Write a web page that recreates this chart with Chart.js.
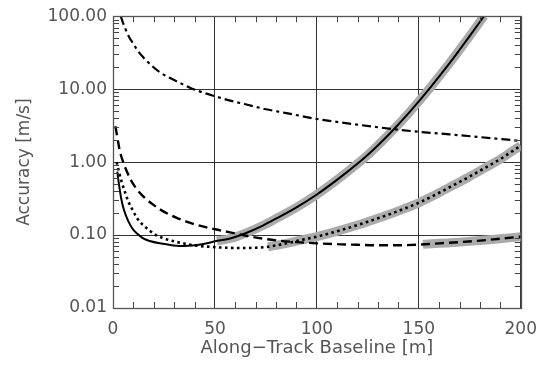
<!DOCTYPE html>
<html>
<head>
<meta charset="utf-8">
<script src="https://cdn.jsdelivr.net/npm/chart.js@4.4.1/dist/chart.umd.min.js"></script>
<style>
html,body{margin:0;padding:0;background:#fff;}
#c{display:block;}
</style>
</head>
<body>
<canvas id="c" width="548" height="367"></canvas>
<script>
// ---- data ----
const xTickValues = [0, 50, 100, 150, 200];
const yTickValues = [0.01, 0.1, 1, 10, 100];
const xTitle = "Along\u2212Track Baseline [m]";
const yTitle = "Accuracy [m/s]";

const solidX = [2.1, 3, 4, 5, 6.5, 8.3, 10, 12, 14.8, 18, 23, 27, 31, 35, 39, 45, 50, 57, 65, 73.5, 80, 90, 100, 110, 120, 125, 130, 138, 145, 150, 155, 160, 165, 170, 175, 180, 182];
const solidY = [0.74, 0.48, 0.32, 0.24, 0.18, 0.14, 0.118, 0.104, 0.09, 0.083, 0.077, 0.074, 0.0715, 0.071, 0.072, 0.076, 0.082, 0.089, 0.106, 0.135, 0.168, 0.24, 0.36, 0.575, 0.955, 1.26, 1.7, 2.87, 4.68, 6.8, 10, 15, 22.6, 34.7, 53.7, 84, 101];

const dotX = [1.8, 3, 4.2, 6, 7.5, 10, 11.6, 15, 18, 21, 24.6, 30, 34.4, 40, 47.4, 55, 62, 70, 76, 85, 92, 100, 110, 120, 126, 135, 142, 150, 160, 168, 175, 182, 190, 195, 200];
const dotY = [1.0, 0.72, 0.54, 0.38, 0.29, 0.21, 0.173, 0.135, 0.115, 0.1, 0.091, 0.082, 0.077, 0.072, 0.069, 0.067, 0.0665, 0.067, 0.069, 0.077, 0.085, 0.095, 0.113, 0.137, 0.156, 0.19, 0.225, 0.277, 0.38, 0.5, 0.635, 0.82, 1.1, 1.36, 1.68];

const dashX = [1.2, 2.5, 3.4, 5, 6.5, 8.3, 11, 14.8, 19, 23, 27, 31, 36, 41, 50, 58, 66, 74, 82, 90, 100, 110, 120, 129, 140, 150, 160, 170, 180, 190, 200];
const dashY = [3.1, 1.9, 1.4, 1.0, 0.78, 0.6, 0.45, 0.34, 0.27, 0.225, 0.195, 0.173, 0.153, 0.138, 0.12, 0.108, 0.097, 0.089, 0.0835, 0.08, 0.077, 0.075, 0.0735, 0.0725, 0.0725, 0.074, 0.077, 0.08, 0.084, 0.089, 0.095];

const dashDotX = [3.8, 5, 6, 8, 10, 12, 15, 19, 23, 28, 33, 38, 44, 50, 58, 65, 75, 85, 91, 100, 115, 130, 150, 165, 180, 200];
const dashDotY = [100, 80, 68, 51, 42, 34, 27, 21, 17, 14.2, 12.1, 10.4, 9.0, 8.0, 6.9, 6.2, 5.3, 4.7, 4.35, 3.9, 3.4, 3.0, 2.6, 2.4, 2.2, 1.95];

// x-ranges of the grey highlighted parts
const solidBandRange = [51, 182];
const dotBandRange = [76, 200];
const dashBandRange = [152, 200];

// ---- build ----
function pts(xs, ys) { return xs.map((x, i) => ({x: x, y: ys[i]})); }
function bandWithStart(xs, ys, r) {
  const all = pts(xs, ys);
  const out = [];
  for (let i = 0; i < all.length - 1; i++) {
    const a = all[i], b = all[i + 1];
    if (a.x < r[0] && b.x > r[0]) {
      const t = (r[0] - a.x) / (b.x - a.x);
      out.push({x: r[0], y: Math.pow(10, Math.log10(a.y) + t * (Math.log10(b.y) - Math.log10(a.y)))});
    }
  }
  return out.concat(all.filter(q => q.x >= r[0] && q.x <= r[1]));
}

const GREY = '#ababab';
const TXT = '#555555';
const FONT = "'DejaVu Sans', sans-serif";

const common = {showLine: true, pointRadius: 0, fill: false, cubicInterpolationMode: 'monotone', borderCapStyle: 'butt'};

const datasets = [
  Object.assign({label: 'solid', data: pts(solidX, solidY), borderColor: '#000', borderWidth: 2, order: 1}, common),
  Object.assign({label: 'dotted', data: pts(dotX, dotY), borderColor: '#000', borderWidth: 2.6, borderDash: [2.6, 3.4], order: 1}, common),
  Object.assign({label: 'dashed', data: pts(dashX, dashY), borderColor: '#000', borderWidth: 2.4, borderDash: [9, 5], order: 1}, common),
  Object.assign({label: 'dashdot', data: pts(dashDotX, dashDotY), borderColor: '#000', borderWidth: 2.2, borderDash: [9, 4, 3, 4], order: 1}, common),
  Object.assign({label: 'solidBand', data: bandWithStart(solidX, solidY, solidBandRange), borderColor: GREY, borderWidth: 9, order: 2}, common),
  Object.assign({label: 'dotBand', data: bandWithStart(dotX, dotY, dotBandRange), borderColor: GREY, borderWidth: 9, order: 2}, common),
  Object.assign({label: 'dashBand', data: bandWithStart(dashX, dashY, dashBandRange), borderColor: GREY, borderWidth: 9, order: 2}, common)
];

const framePlugin = {
  id: 'frame',
  afterDatasetsDraw(chart) {
    const {ctx, chartArea: a, scales} = chart;
    const xs = scales.x, ys = scales.y;
    ctx.save();
    ctx.strokeStyle = '#444';
    ctx.lineWidth = 1;
    const L = 6;
    ctx.beginPath();
    for (let v = 10; v < 200; v += 10) {
      if (v % 50 === 0) continue;
      const px = Math.round(xs.getPixelForValue(v)) + 0.5;
      ctx.moveTo(px, a.bottom); ctx.lineTo(px, a.bottom - L);
      ctx.moveTo(px, a.top); ctx.lineTo(px, a.top + L);
    }
    for (let d = 0.01; d < 100; d *= 10) {
      for (let m = 2; m <= 9; m++) {
        const py = Math.round(ys.getPixelForValue(d * m)) + 0.5;
        ctx.moveTo(a.left, py); ctx.lineTo(a.left + L, py);
        ctx.moveTo(a.right, py); ctx.lineTo(a.right - L, py);
      }
    }
    ctx.stroke();
    ctx.strokeStyle = '#555';
    ctx.lineWidth = 1.3;
    ctx.strokeRect(Math.round(a.left) + 0.5, Math.round(a.top) + 0.5, Math.round(a.right - a.left), Math.round(a.bottom - a.top));
    ctx.restore();
  }
};

new Chart(document.getElementById('c'), {
  type: 'scatter',
  data: {datasets: datasets},
  plugins: [framePlugin],
  options: {
    responsive: false,
    animation: false,
    devicePixelRatio: 1,
    layout: {padding: {left: 0, right: 26, top: 13, bottom: 0}},
    plugins: {legend: {display: false}, tooltip: {enabled: false}},
    scales: {
      x: {
        type: 'linear', min: 0, max: 200,
        afterFit(s) { s.height = 59; },
        afterBuildTicks(s) { s.ticks = xTickValues.map(v => ({value: v})); },
        ticks: {color: TXT, font: {family: FONT, size: 17}, padding: 11, maxRotation: 0, autoSkip: false},
        grid: {color: '#333', lineWidth: 1, drawTicks: false},
        border: {display: false},
        title: {display: true, text: xTitle, color: TXT, font: {family: FONT, size: 18}, padding: {top: 0, bottom: 8}}
      },
      y: {
        type: 'logarithmic', min: 0.01, max: 100,
        afterFit(s) { s.width = 113; },
        afterBuildTicks(s) { s.ticks = yTickValues.map(v => ({value: v})); },
        ticks: {color: TXT, font: {family: FONT, size: 17}, padding: 6, autoSkip: false,
          callback: (v) => Number(v).toFixed(2)},
        grid: {color: '#333', lineWidth: 1, drawTicks: false},
        border: {display: false},
        title: {display: true, text: yTitle, color: TXT, font: {family: FONT, size: 17}, padding: {top: 14, bottom: 0}}
      }
    }
  }
});
</script>
</body>
</html>
